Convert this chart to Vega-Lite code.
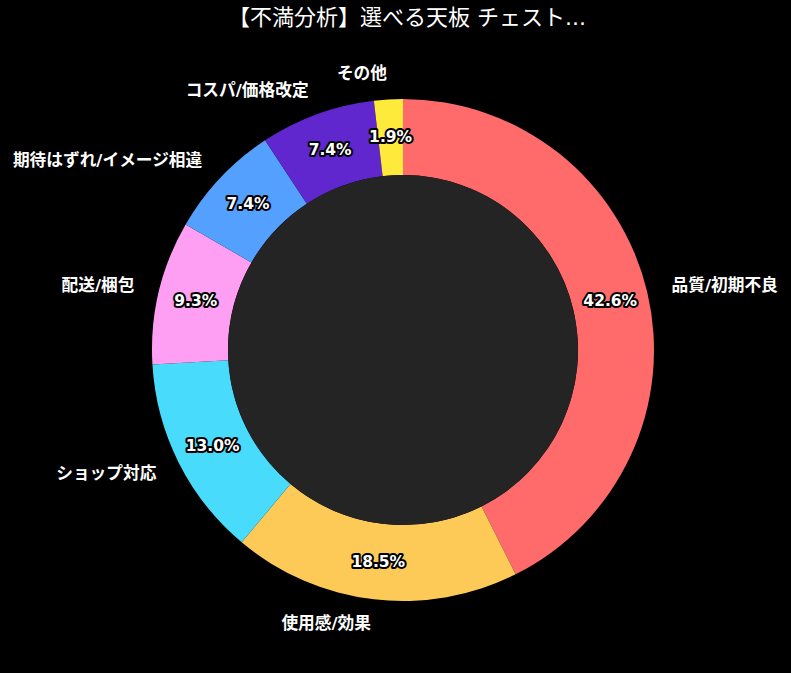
{
  "$schema": "https://vega.github.io/schema/vega-lite/v6.json",
  "width": 776,
  "height": 620,
  "autosize": {"type": "none"},
  "padding": {"left": 15, "top": 40, "right": 0, "bottom": 13},
  "background": "black",
  "title": {
    "text": "【不満分析】選べる天板 チェスト...",
    "color": "white",
    "fontSize": 22,
    "fontWeight": "normal",
    "font": "DejaVu Sans, Noto Sans CJK JP",
    "anchor": "middle",
    "dx": 4,
    "offset": 10
  },
  "config": {"view": {"stroke": null}},
  "data": {
    "values": [
      {"i": 1, "cat": "品質/初期不良", "count": 23, "pct": "42.6%"},
      {"i": 2, "cat": "使用感/効果", "count": 10, "pct": "18.5%"},
      {"i": 3, "cat": "ショップ対応", "count": 7, "pct": "13.0%"},
      {"i": 4, "cat": "配送/梱包", "count": 5, "pct": "9.3%"},
      {"i": 5, "cat": "期待はずれ/イメージ相違", "count": 4, "pct": "7.4%"},
      {"i": 6, "cat": "コスパ/価格改定", "count": 4, "pct": "7.4%"},
      {"i": 7, "cat": "その他", "count": 1, "pct": "1.9%"}
    ]
  },
  "layer": [
    {
      "mark": {"type": "arc", "radius": 251, "radius2": 175},
      "encoding": {
        "theta": {"field": "count", "type": "quantitative", "stack": true},
        "order": {"field": "i", "type": "quantitative"},
        "color": {
          "field": "cat",
          "type": "nominal",
          "legend": null,
          "scale": {
            "domain": ["品質/初期不良", "使用感/効果", "ショップ対応", "配送/梱包", "期待はずれ/イメージ相違", "コスパ/価格改定", "その他"],
            "range": ["#ff6b6b", "#feca57", "#48dbfb", "#ff9ff3", "#54a0ff", "#5f27cd", "#feea3b"]
          }
        }
      }
    },
    {
      "data": {"values": [{"hole": "center"}]},
      "mark": {"type": "arc", "radius": 175, "theta": 0, "theta2": 6.2832, "fill": "#242424"},
      "encoding": {}
    },
    {
      "mark": {"type": "text", "radius": 213, "fontSize": 15.5, "fontWeight": "bold", "font": "DejaVu Sans, Noto Sans CJK JP", "stroke": "black", "strokeWidth": 4, "strokeJoin": "round", "fill": "black", "baseline": "middle"},
      "encoding": {
        "theta": {"field": "count", "type": "quantitative", "stack": true},
        "order": {"field": "i", "type": "quantitative"},
        "text": {"field": "pct", "type": "nominal"}
      }
    },
    {
      "mark": {"type": "text", "radius": 213, "fontSize": 15.5, "fontWeight": "bold", "font": "DejaVu Sans, Noto Sans CJK JP", "fill": "white", "baseline": "middle"},
      "encoding": {
        "theta": {"field": "count", "type": "quantitative", "stack": true},
        "order": {"field": "i", "type": "quantitative"},
        "text": {"field": "pct", "type": "nominal"}
      }
    },
    {
      "mark": {"type": "text", "radius": 276, "align": "left", "baseline": "middle", "fontSize": 16.7, "fontWeight": "bold", "font": "DejaVu Sans, Noto Sans CJK JP", "color": "white"},
      "encoding": {
        "theta": {"field": "count", "type": "quantitative", "stack": true},
        "order": {"field": "i", "type": "quantitative"},
        "text": {"condition": {"test": "datum.cat === '品質/初期不良'", "field": "cat", "type": "nominal"}, "value": ""}
      }
    },
    {
      "mark": {"type": "text", "radius": 276, "align": "right", "baseline": "middle", "fontSize": 16.7, "fontWeight": "bold", "font": "DejaVu Sans, Noto Sans CJK JP", "color": "white"},
      "encoding": {
        "theta": {"field": "count", "type": "quantitative", "stack": true},
        "order": {"field": "i", "type": "quantitative"},
        "text": {"condition": {"test": "datum.cat !== '品質/初期不良'", "field": "cat", "type": "nominal"}, "value": ""}
      }
    }
  ]
}
